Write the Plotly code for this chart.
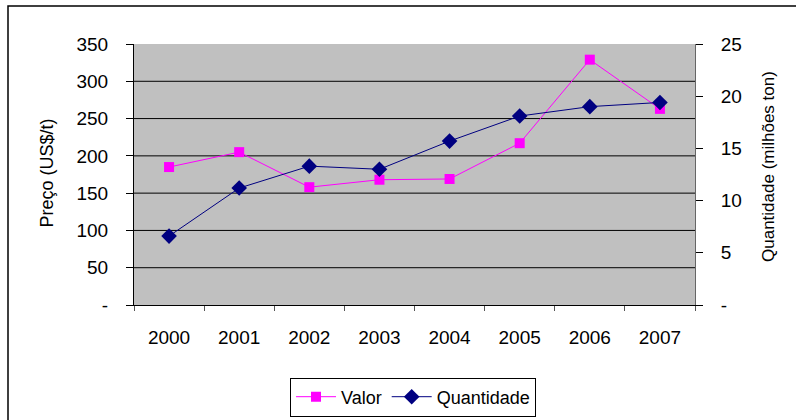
import plotly.graph_objects as go

anos = ["2000", "2001", "2002", "2003", "2004", "2005", "2006", "2007"]
valor = [185, 205, 158, 168, 169, 217, 329, 263]
quantidade = [6.6, 11.2, 13.3, 13.0, 15.7, 18.1, 19.0, 19.4]
preco_ticks = [0, 50, 100, 150, 200, 250, 300, 350]
preco_labels = ["-", "50", "100", "150", "200", "250", "300", "350"]
qtd_ticks = [0, 5, 10, 15, 20, 25]
qtd_labels = ["-", "5", "10", "15", "20", "25"]

FONT = "Liberation Sans, Arial, sans-serif"
W, H = 796, 420
L, R, T, B = 134, 101, 44, 115
pw, ph = W - L - R, H - T - B

def px(x):
    return (x - L) / pw

def py(y):
    return (H - B - y) / ph

fig = go.Figure()
fig.add_trace(go.Scatter(
    x=anos, y=valor, name="Valor", mode="lines+markers",
    line=dict(color="#FF00FF", width=1),
    marker=dict(symbol="square", size=10, color="#FF00FF"),
    yaxis="y",
))
fig.add_trace(go.Scatter(
    x=anos, y=quantidade, name="Quantidade", mode="lines+markers",
    line=dict(color="#000080", width=1),
    marker=dict(symbol="diamond", size=12, color="#000080"),
    yaxis="y2",
))

shapes = []
for v in preco_ticks[1:-1]:
    shapes.append(dict(type="line", xref="paper", x0=0, x1=1, yref="y", y0=v, y1=v,
                       line=dict(color="#000000", width=1), layer="below"))
shapes.append(dict(type="rect", xref="paper", yref="paper",
                   x0=px(8), x1=px(805), y0=py(6), y1=py(430),
                   line=dict(color="#000000", width=1.5), fillcolor="rgba(0,0,0,0)"))

fig.update_layout(
    width=W, height=H,
    margin=dict(l=L, r=R, t=T, b=B, autoexpand=False),
    paper_bgcolor="white", plot_bgcolor="#C0C0C0",
    font=dict(family=FONT, size=19, color="#000000"),
    showlegend=True,
    legend=dict(orientation="h", x=px(413), xanchor="center", y=py(397), yanchor="middle",
                bordercolor="#000000", borderwidth=1, bgcolor="white",
                font=dict(family=FONT, size=18), itemwidth=40),
    xaxis=dict(type="category", tickson="boundaries", ticks="outside", ticklen=5,
               tickcolor="#555555", showline=True, linecolor="#000000", linewidth=1,
               showgrid=False, ticklabelstandoff=15, tickfont=dict(size=19),
               range=[-0.5, 7.5]),
    yaxis=dict(range=[0, 350], tickvals=preco_ticks, ticktext=preco_labels,
               ticks="outside", ticklen=7, tickcolor="#000000", showline=True,
               linecolor="#000000", linewidth=1, showgrid=False, zeroline=False,
               ticklabelstandoff=14),
    yaxis2=dict(range=[0, 25], tickvals=qtd_ticks, ticktext=qtd_labels, overlaying="y",
                side="right", ticks="outside", ticklen=7, tickcolor="#000000",
                showline=True, linecolor="#666666", linewidth=1, showgrid=False,
                zeroline=False, ticklabelstandoff=14),
    shapes=shapes,
    annotations=[
        dict(text="Preço (US$/t)", xref="paper", yref="paper", x=px(46.5), y=py(173),
             xanchor="center", yanchor="middle",
             textangle=-90, showarrow=False, font=dict(size=18)),
        dict(text="Quantidade (milhões ton)", xref="paper", yref="paper", x=px(768), y=py(167),
             xanchor="center", yanchor="middle",
             textangle=-90, showarrow=False, font=dict(size=17)),
    ],
)

fig.write_html("out.html", config={"displayModeBar": False},
               post_script="document.body.style.margin='0';")
